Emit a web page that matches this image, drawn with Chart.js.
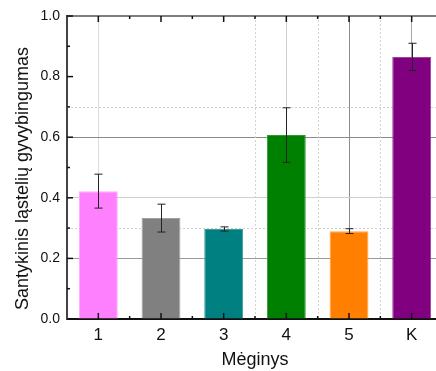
<!DOCTYPE html>
<html>
<head>
<meta charset="utf-8">
<script src="https://cdn.jsdelivr.net/npm/chart.js@4"></script>
<style>
    html, body { margin: 0; padding: 0; background: #fff; overflow: hidden; }
    #wrap { width: 436px; height: 371px; overflow: hidden; }
</style>
</head>
<body>
<div id="wrap"><canvas id="viabilityChart" width="444" height="371"></canvas></div>
<script>
// -------- DATA --------
const categories = ["1", "2", "3", "4", "5", "K"];
const viability = [0.422, 0.333, 0.297, 0.607, 0.290, 0.865];
const viabilityErr = [0.056, 0.046, 0.007, 0.090, 0.008, 0.045];
const barColors = ["#ff80ff", "#808080", "#008080", "#008000", "#ff8000", "#800080"];
const barEdges = ["#ffa6ff", "#a0a0a0", "#3a9e9e", "#2e9a2e", "#ffa040", "#a040a0"];
const yMinorTicks = [0.1, 0.3, 0.5, 0.7, 0.9];
const yDottedGrid = [0.3, 0.7];
const xDottedGrid = [2.5, 3.5, 4.5];
const yTitle = "Santykinis ląstelių gyvybingumas";

const FONT = "Arial, 'Liberation Sans', sans-serif";

// -------- PLUGINS --------
const dottedGrid = {
    id: "dottedGrid",
    beforeDatasetsDraw(chart) {
        const { ctx, chartArea: a, scales: { x, y } } = chart;
        ctx.save();
        ctx.strokeStyle = "#d2d2d2";
        ctx.lineWidth = 1;
        ctx.setLineDash([2, 2]);
        yDottedGrid.forEach(v => {
            const py = Math.round(y.getPixelForValue(v)) + 0.5;
            ctx.beginPath(); ctx.moveTo(a.left, py); ctx.lineTo(a.right, py); ctx.stroke();
        });
        xDottedGrid.forEach(v => {
            const px = Math.round(x.getPixelForValue(v)) + 0.5;
            ctx.beginPath(); ctx.moveTo(px, a.top); ctx.lineTo(px, a.bottom); ctx.stroke();
        });
        ctx.restore();
    }
};

const errorBars = {
    id: "errorBars",
    afterDatasetsDraw(chart) {
        const { ctx, scales: { x, y } } = chart;
        ctx.save();
        ctx.strokeStyle = "#222";
        ctx.lineWidth = 1;
        viability.forEach((v, i) => {
            const px = Math.round(x.getPixelForValue(i)) + 0.5;
            const hi = y.getPixelForValue(v + viabilityErr[i]);
            const lo = y.getPixelForValue(v - viabilityErr[i]);
            ctx.beginPath();
            ctx.moveTo(px, hi); ctx.lineTo(px, lo);
            ctx.moveTo(px - 4, hi); ctx.lineTo(px + 4, hi);
            ctx.moveTo(px - 4, lo); ctx.lineTo(px + 4, lo);
            ctx.stroke();
        });
        ctx.restore();
    }
};

const frameTicks = {
    id: "frameTicks",
    afterDraw(chart) {
        const { ctx, chartArea: a, scales: { x, y } } = chart;
        ctx.save();
        // top frame line
        ctx.strokeStyle = "#555";
        ctx.lineWidth = 1.5;
        ctx.beginPath(); ctx.moveTo(a.left, a.top); ctx.lineTo(a.right + 2, a.top); ctx.stroke();

        ctx.strokeStyle = "#111";
        ctx.lineWidth = 1.5;
        // y ticks (inward)
        y.ticks.forEach(t => {
            const py = y.getPixelForValue(t.value);
            ctx.beginPath(); ctx.moveTo(a.left, py); ctx.lineTo(a.left + 6, py); ctx.stroke();
        });
        yMinorTicks.forEach(v => {
            const py = y.getPixelForValue(v);
            ctx.beginPath(); ctx.moveTo(a.left, py); ctx.lineTo(a.left + 3, py); ctx.stroke();
        });
        // x ticks bottom and top (inward)
        categories.forEach((c, i) => {
            const px = x.getPixelForValue(i);
            ctx.beginPath();
            ctx.moveTo(px, a.bottom); ctx.lineTo(px, a.bottom - 6);
            ctx.moveTo(px, a.top); ctx.lineTo(px, a.top + 6);
            ctx.stroke();
            if (i < categories.length - 1) {
                const mx = x.getPixelForValue(i + 0.5);
                ctx.beginPath();
                ctx.moveTo(mx, a.bottom); ctx.lineTo(mx, a.bottom - 3);
                ctx.moveTo(mx, a.top); ctx.lineTo(mx, a.top + 3);
                ctx.stroke();
            }
        });

        // y axis title, placed a bit below the plot centre like the original
        ctx.translate(23, (a.top + a.bottom) / 2 + 11);
        ctx.rotate(-Math.PI / 2);
        ctx.fillStyle = "#111";
        ctx.font = "18px " + FONT;
        ctx.textAlign = "center";
        ctx.textBaseline = "middle";
        ctx.fillText(yTitle, 0, 0);
        ctx.restore();
    }
};

// -------- CHART --------
const ctx = document.getElementById("viabilityChart").getContext("2d");

new Chart(ctx, {
    type: "bar",
    data: {
        labels: categories,
        datasets: [{
            data: viability,
            backgroundColor: barColors,
            borderColor: barEdges,
            borderWidth: 1,
            categoryPercentage: 1,
            barPercentage: 0.62
        }]
    },
    options: {
        responsive: false,
        animation: false,
        layout: { padding: { top: 16, right: 1, left: 0, bottom: 0 } },
        plugins: {
            legend: { display: false },
            tooltip: { enabled: false }
        },
        scales: {
            x: {
                offset: true,
                afterFit: s => { s.height = 52; },
                grid: {
                    offset: false,
                    drawTicks: false,
                    lineWidth: 1,
                    color: c => ["#dcdcdc", "rgba(0,0,0,0)", "rgba(0,0,0,0)", "#cfcfcf", "#8c8c8c", "#a8a8a8"][c.index] || "rgba(0,0,0,0)"
                },
                border: { display: true, color: "#111", width: 2 },
                ticks: { padding: 6, color: "#111", font: { family: FONT, size: 17 } },
                title: {
                    display: true,
                    text: "Mėginys",
                    color: "#111",
                    font: { family: FONT, size: 18 },
                    padding: { top: 0, bottom: 0 }
                }
            },
            y: {
                min: 0,
                max: 1,
                afterFit: s => { s.width = 67; },
                grid: {
                    drawTicks: false,
                    lineWidth: 1,
                    color: c => {
                        const v = Math.round(c.tick.value * 10) / 10;
                        if (v === 0.2) return "#9a9a9a";
                        if (v === 0.4) return "#d0d0d0";
                        if (v === 0.6) return "#8a8a8a";
                        return "rgba(0,0,0,0)";
                    }
                },
                border: { display: true, color: "#444", width: 2 },
                ticks: {
                    stepSize: 0.2,
                    padding: 7,
                    color: "#111",
                    font: { family: FONT, size: 14 },
                    callback: v => v.toFixed(1)
                }
            }
        }
    },
    plugins: [dottedGrid, errorBars, frameTicks]
});
</script>
</body>
</html>
